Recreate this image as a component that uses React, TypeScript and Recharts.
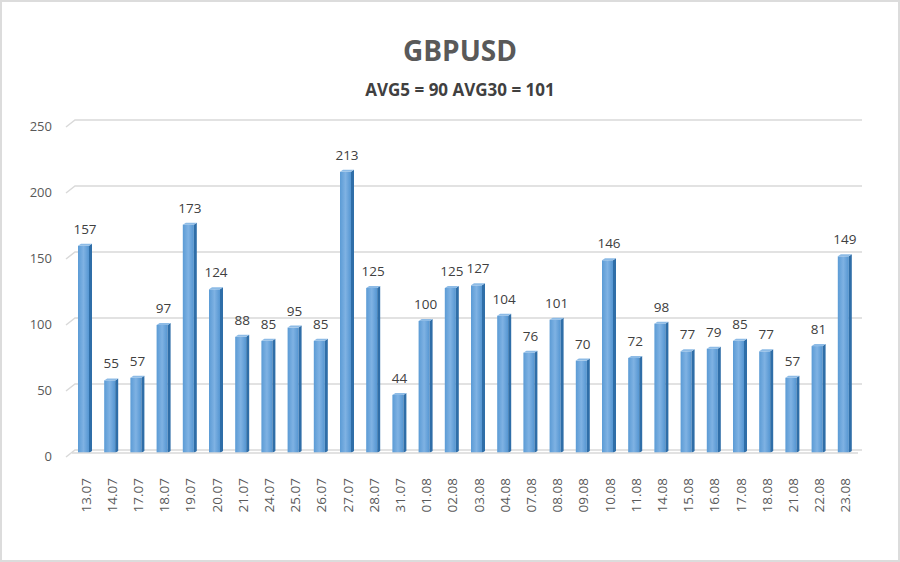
import React from 'react';
import { BarChart, Bar, XAxis, YAxis, CartesianGrid, LabelList } from 'recharts';

const categories = ['13.07','14.07','17.07','18.07','19.07','20.07','21.07','24.07','25.07','26.07','27.07','28.07','31.07','01.08','02.08','03.08','04.08','07.08','08.08','09.08','10.08','11.08','14.08','15.08','16.08','17.08','18.08','21.08','22.08','23.08'];
const values = [157,55,57,97,173,124,88,85,95,85,213,125,44,100,125,127,104,76,101,70,146,72,98,77,79,85,77,57,81,149];
const yTicks = [0,50,100,150,200,250];
const title = 'GBPUSD';
const subtitle = 'AVG5 = 90 AVG30 = 101';

const data = categories.map((c, i) => ({ date: c, value: values[i] }));

const FONT = '"Open Sans", "Noto Sans", sans-serif';

const BarShape = (props: any) => {
  const { x, y, width, height } = props;
  if (height <= 0) return null;
  const side = 3;
  const fw = width - side;
  return (
    <g>
      <rect x={x} y={y} width={fw} height={height} fill="url(#barGrad)" />
      <path d={`M${x + fw},${y} L${x + width},${y - 2} L${x + width},${y + height - 2} L${x + fw},${y + height} Z`} fill="#2f6ea8" />
      <path d={`M${x},${y} L${x + side},${y - 2} L${x + width},${y - 2} L${x + fw},${y} Z`} fill="#8dbbe6" />
    </g>
  );
};

const GridLine = (props: any) => {
  const { x1, x2, y1 } = props;
  return (
    <path
      key={`g-${y1}`}
      d={`M${x1 - 6},${y1 + 4} L${x1 + 3},${y1 - 3} L${x2 + 4},${y1 - 3}`}
      stroke="#d9d9d9"
      strokeWidth={1.5}
      fill="none"
    />
  );
};

export default function App() {
  return (
    <div style={{ position: 'absolute', left: 0, top: 0, width: 900, height: 562, background: '#fff' }}>
      <div style={{ position: 'absolute', left: 0, top: 0, width: 896, height: 558, border: '2px solid #dcdcdc' }} />
      <div style={{ position: 'absolute', left: 0, top: 30, width: 920, textAlign: 'center', fontFamily: FONT, fontWeight: 700, fontSize: 28, color: '#595959', lineHeight: '40px' }}>{title}</div>
      <div style={{ position: 'absolute', left: 0, top: 78, width: 920, textAlign: 'center', fontFamily: FONT, fontWeight: 700, fontSize: 17, color: '#404040', lineHeight: '24px' }}>{subtitle}</div>
      <div style={{ position: 'absolute', left: 0, top: 0 }}>
        <BarChart width={900} height={562} data={data} margin={{ top: 123, right: 42, left: 0, bottom: 0 }} barSize={14}>
          <defs>
            <linearGradient id="barGrad" x1="0" y1="0" x2="1" y2="0">
              <stop offset="0%" stopColor="#5b9bd5" />
              <stop offset="50%" stopColor="#7fb2e3" />
              <stop offset="100%" stopColor="#5596d2" />
            </linearGradient>
          </defs>
          <CartesianGrid vertical={false} horizontal={GridLine as any} />
          <YAxis
            width={72}
            domain={[0, 250]}
            ticks={yTicks}
            axisLine={false}
            tickLine={false}
            tickSize={0}
            tickMargin={20}
            tick={{ fill: '#595959', fontSize: 13, fontFamily: FONT, dy: 3 }}
          />
          <XAxis
            dataKey="date"
            height={109}
            interval={0}
            axisLine={{ stroke: '#d9d9d9', strokeWidth: 1.5 }}
            tickLine={false}
            tick={{ fill: '#595959', fontSize: 13.5, fontFamily: FONT, angle: -90, textAnchor: 'end', dy: 4, dx: -4 }}
            tickMargin={15}
          />
          <Bar dataKey="value" shape={BarShape} isAnimationActive={false}>
            <LabelList dataKey="value" position="top" offset={12} fill="#404040" fontSize={13.5} fontFamily={FONT} />
          </Bar>
        </BarChart>
      </div>
    </div>
  );
}
